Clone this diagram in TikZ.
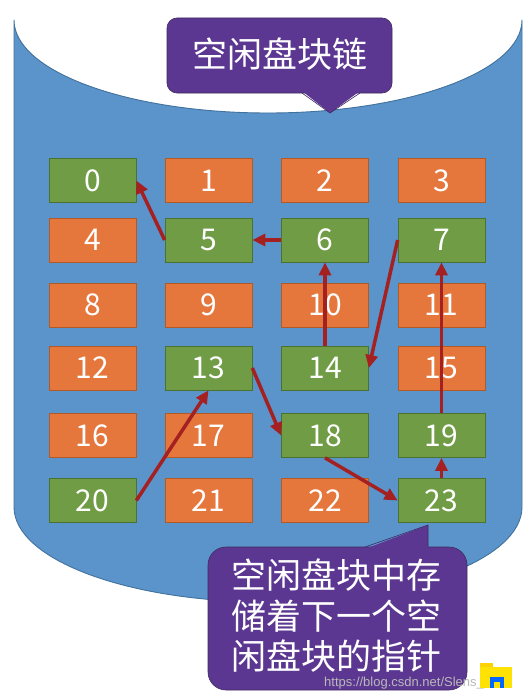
\documentclass[tikz,border=0pt]{standalone}
\usepackage{fontspec}
\setmainfont{Noto Sans CJK SC}
\newfontfamily\wmfont{Liberation Sans}
\usetikzlibrary{arrows.meta}
\definecolor{canblue}{HTML}{5A94CB}
\definecolor{canedge}{HTML}{41719C}
\definecolor{boxorange}{HTML}{E5773D}
\definecolor{orangeedge}{HTML}{B05A28}
\definecolor{boxgreen}{HTML}{6F9C44}
\definecolor{greenedge}{HTML}{4C7230}
\definecolor{callpurple}{HTML}{5C3791}
\definecolor{calledge}{HTML}{3E2A5E}
\definecolor{arrowred}{HTML}{A52020}
\tikzset{
  blk/.style={minimum width=87pt, minimum height=44pt, inner sep=0pt, line width=0.7pt,
    text=white, font=\fontsize{30}{30}\selectfont},
  freeblk/.style={blk, fill=boxorange, draw=orangeedge},
  usedblk/.style={blk, fill=boxgreen, draw=greenedge},
  link/.style={draw=arrowred, line width=3.5pt, -{Triangle[length=13pt,width=12pt]}},
  callbox/.style={fill=callpurple, draw=calledge, line width=0.6pt},
}
\begin{document}
\begin{tikzpicture}[x=1pt,y=-1pt]
\useasboundingbox (0,0) rectangle (528,693);
\fill[white] (0,0) rectangle (528,693);
% cylinder
\path[fill=canblue, draw=canedge, line width=0.9pt]
  (14,20) -- (14,507)
  .. controls (14,559.5) and (127.7,602) .. (268,602)
  .. controls (408.3,602) and (522,559.5) .. (522,507)
  -- (522,20)
  .. controls (522,71.4) and (408.3,113) .. (268,113)
  .. controls (127.7,113) and (14,71.4) .. (14,20) -- cycle;
% blocks
\foreach \n/\x/\y/\s in {
  0/92.5/180.5/usedblk, 1/208.5/180.5/freeblk, 2/325/180.5/freeblk, 3/441.5/180.5/freeblk,
  4/92.5/240/freeblk, 5/208.5/240/usedblk, 6/325/240/usedblk, 7/441.5/240/usedblk,
  8/92.5/305/freeblk, 9/208.5/305/freeblk, 10/325/305/freeblk, 11/441.5/305/freeblk,
  12/92.5/368/freeblk, 13/208.5/368/usedblk, 14/325/368/usedblk, 15/441.5/368/freeblk,
  16/92.5/435.5/freeblk, 17/208.5/435.5/freeblk, 18/325/435.5/usedblk, 19/441.5/435.5/usedblk,
  20/92.5/500.5/usedblk, 21/208.5/500.5/freeblk, 22/325/500.5/freeblk, 23/441.5/500.5/usedblk}
  \node[\s] (b\n) at (\x,\y) {\n};
% links of the free-block chain
\draw[link] (b20.east) -- (b13.south);
\draw[link] (b13.east) -- (b18.west);
\draw[link] (b18.south) -- (b23.west);
\draw[link] (b23.north) -- (b19.south);
\draw[link] (b19.north) -- (b7.south);
\draw[link] (b7.west) -- (b14.east);
\draw[link] (b14.north) -- (b6.south);
\draw[link] (b6.west) -- (b5.east);
\draw[link] (b5.west) -- (b0.east);
% top callout
\path[callbox, rounded corners=10pt] (167,18) rectangle (392,93);
\fill[callpurple] (302,91) -- (330,113) -- (360,91) -- cycle;
\draw[calledge, line width=0.6pt] (302,93) -- (330,113) -- (360,93);
\node[text=white, font=\fontsize{35}{35}\selectfont, inner sep=0pt] (title) at (279.5,54) {空闲盘块链};
% bottom callout
\path[callbox, rounded corners=18pt] (208,547) rectangle (467,690);
\fill[callpurple] (365,549) -- (428,525) -- (428,549) -- cycle;
\draw[calledge, line width=0.6pt] (365,547) -- (428,525) -- (428,547);
\node[text=white, font=\fontsize{35}{40.5}\selectfont, align=center, inner sep=0pt] (note) at (336,616)
  {空闲盘块中存\\储着下一个空\\闲盘块的指针};
% watermark and icon
\node[text=gray!55, font=\wmfont\fontsize{13}{13}\selectfont, inner sep=0pt, anchor=west] (wm) at (324,683) {https://blog.csdn.net/Slens\_};
\fill[yellow!70!orange] (480,663) rectangle (493,668);
\fill[yellow!85!orange] (480,667) rectangle (512,688);
\fill[blue!60!cyan] (490,677) rectangle (504,688);
\fill[yellow!85!orange] (494,682) rectangle (500,688);
\end{tikzpicture}
\end{document}
